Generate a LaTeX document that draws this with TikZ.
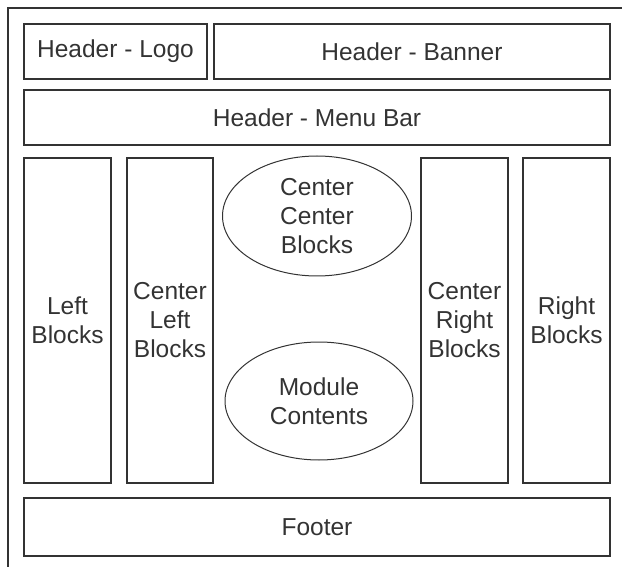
\documentclass[tikz,border=0pt]{standalone}
\usepackage{fontspec}
\setmainfont{Liberation Sans}
\usetikzlibrary{shapes.geometric}
\definecolor{ink}{HTML}{333333}
\begin{document}
\begin{tikzpicture}[x=1pt,y=-1pt,
  box/.style={draw=ink,line width=1.5pt,inner sep=0pt,text=ink,font=\fontsize{24.5}{29}\selectfont,align=center},
  oval/.style={draw=ink,line width=1pt,ellipse,inner sep=0pt,text=ink,font=\fontsize{24.5}{29}\selectfont,align=center}]
\useasboundingbox (0,0) rectangle (622,567);
\draw[ink,line width=1.5pt] (8,567) -- (8,8) -- (622,8);
\node[box,minimum width=183pt,minimum height=55pt] (logo) at (115.5,51.5) {Header - Logo};
\node[box,minimum width=396pt,minimum height=55pt] (banner) at (412,51.5) {Header - Banner};
\node[box,minimum width=586pt,minimum height=55pt] (menu) at (317,117.5) {Header - Menu Bar};
\node[box,minimum width=87pt,minimum height=325pt] (left) at (67.5,320.5) {Left\\Blocks};
\node[box,minimum width=86pt,minimum height=325pt] (cleft) at (170,320.5) {Center\\Left\\Blocks};
\node[box,minimum width=87pt,minimum height=325pt] (cright) at (464.5,320.5) {Center\\Right\\Blocks};
\node[box,minimum width=87pt,minimum height=325pt] (right) at (566.5,320.5) {Right\\Blocks};
\node[oval,minimum width=189pt,minimum height=120pt] (ccb) at (317,216) {Center\\Center\\Blocks};
\node[oval,minimum width=188pt,minimum height=118pt] (mod) at (319,401) {Module\\Contents};
\node[box,minimum width=586pt,minimum height=58pt] (footer) at (317,527) {Footer};
\end{tikzpicture}
\end{document}
